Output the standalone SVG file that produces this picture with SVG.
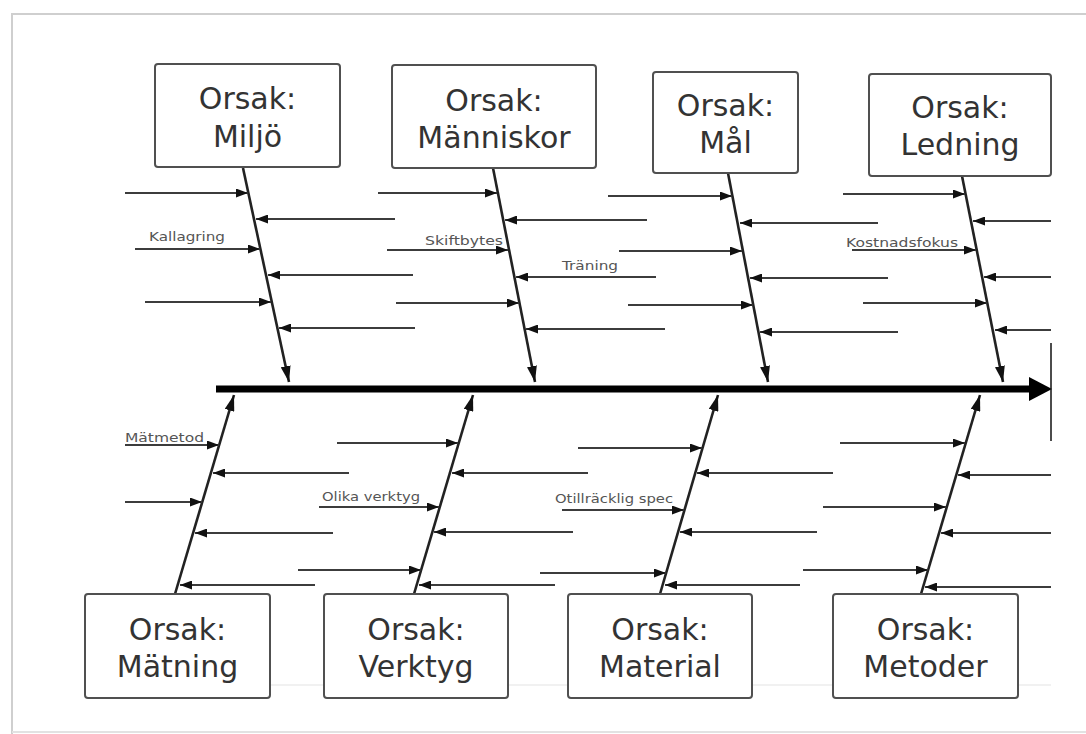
<svg xmlns="http://www.w3.org/2000/svg" width="1086" height="734" viewBox="0 0 1086 734">
<defs>
<style>
.frame{stroke:#cfcfcf;stroke-width:2;fill:none}
.faint{stroke:#ececec;stroke-width:1.5}
.box{fill:#fff;stroke:#505050;stroke-width:2}
.bt{font-family:"DejaVu Sans",sans-serif;font-size:30px;fill:#333;text-anchor:middle}
.lbl{font-family:"DejaVu Sans",sans-serif;font-size:12px;fill:#555}
.rib{stroke:#3c3c3c;stroke-width:2.2;fill:none;marker-end:url(#ra)}
.bone{stroke:#222;stroke-width:2.6;fill:none;marker-end:url(#ba)}
</style>
<marker id="ra" markerUnits="userSpaceOnUse" markerWidth="13" markerHeight="9" refX="12" refY="4.5" orient="auto">
<path d="M0,0 L12,4.5 L0,9 z" fill="#111"/>
</marker>
<marker id="ba" markerUnits="userSpaceOnUse" markerWidth="17" markerHeight="10" refX="16" refY="5" orient="auto">
<path d="M0,0 L16,5 L0,10 z" fill="#111"/>
</marker>
</defs>
<rect width="1086" height="734" fill="#fff"/>
<path class="frame" d="M12,734 L12,14 L1086,14"/>
<line x1="12" y1="732" x2="1086" y2="732" stroke="#e2e2e2" stroke-width="2"/>
<line class="faint" x1="85" y1="685" x2="1051" y2="685"/>

<g id="connectors">
<line x1="216" y1="389" x2="1032" y2="389" stroke="#000" stroke-width="7"/>
<polygon points="1029,377 1052,389 1029,401" fill="#000"/>
<line x1="1051" y1="343" x2="1051" y2="441" stroke="#111" stroke-width="1.5"/>

<line class="bone" x1="243" y1="168" x2="289" y2="382"/>
<line class="bone" x1="493" y1="168" x2="535" y2="382"/>
<line class="bone" x1="728" y1="173" x2="768" y2="382"/>
<line class="bone" x1="962" y1="176" x2="1003" y2="382"/>
<line class="bone" x1="175" y1="594" x2="234" y2="395"/>
<line class="bone" x1="414" y1="594" x2="473" y2="395"/>
<line class="bone" x1="660" y1="594" x2="718" y2="395"/>
<line class="bone" x1="921" y1="594" x2="980" y2="395"/>

<line class="rib" x1="125" y1="193" x2="248" y2="193"/>
<line class="rib" x1="395" y1="219" x2="256" y2="219"/>
<line class="rib" x1="135" y1="249" x2="260" y2="249"/>
<line class="rib" x1="413" y1="275" x2="268" y2="275"/>
<line class="rib" x1="145" y1="302" x2="271" y2="302"/>
<line class="rib" x1="415" y1="328" x2="279" y2="328"/>

<line class="rib" x1="378" y1="193" x2="497" y2="193"/>
<line class="rib" x1="647" y1="220" x2="505" y2="220"/>
<line class="rib" x1="387" y1="250" x2="508" y2="250"/>
<line class="rib" x1="656" y1="277" x2="516" y2="277"/>
<line class="rib" x1="396" y1="303" x2="519" y2="303"/>
<line class="rib" x1="665" y1="329" x2="526" y2="329"/>

<line class="rib" x1="608" y1="196" x2="732" y2="196"/>
<line class="rib" x1="878" y1="223" x2="740" y2="223"/>
<line class="rib" x1="619" y1="251" x2="742" y2="251"/>
<line class="rib" x1="888" y1="278" x2="750" y2="278"/>
<line class="rib" x1="628" y1="305" x2="753" y2="305"/>
<line class="rib" x1="898" y1="332" x2="760" y2="332"/>

<line class="rib" x1="843" y1="194" x2="965" y2="194"/>
<line class="rib" x1="1051" y1="221" x2="973" y2="221"/>
<line class="rib" x1="852" y1="250" x2="976" y2="250"/>
<line class="rib" x1="1051" y1="277" x2="984" y2="277"/>
<line class="rib" x1="863" y1="303" x2="987" y2="303"/>
<line class="rib" x1="1051" y1="330" x2="995" y2="330"/>

<line class="rib" x1="125" y1="445" x2="219" y2="445"/>
<line class="rib" x1="349" y1="473" x2="213" y2="473"/>
<line class="rib" x1="125" y1="502" x2="202" y2="502"/>
<line class="rib" x1="333" y1="533" x2="195" y2="533"/>
<line class="rib" x1="315" y1="585" x2="180" y2="585"/>

<line class="rib" x1="337" y1="443" x2="458" y2="443"/>
<line class="rib" x1="588" y1="473" x2="452" y2="473"/>
<line class="rib" x1="319" y1="507" x2="439" y2="507"/>
<line class="rib" x1="573" y1="532" x2="434" y2="532"/>
<line class="rib" x1="298" y1="570" x2="421" y2="570"/>
<line class="rib" x1="555" y1="585" x2="419" y2="585"/>

<line class="rib" x1="578" y1="448" x2="702" y2="448"/>
<line class="rib" x1="833" y1="473" x2="697" y2="473"/>
<line class="rib" x1="562" y1="510" x2="684" y2="510"/>
<line class="rib" x1="817" y1="532" x2="680" y2="532"/>
<line class="rib" x1="540" y1="573" x2="666" y2="573"/>
<line class="rib" x1="800" y1="585" x2="665" y2="585"/>

<line class="rib" x1="840" y1="443" x2="965" y2="443"/>
<line class="rib" x1="1051" y1="475" x2="958" y2="475"/>
<line class="rib" x1="823" y1="507" x2="946" y2="507"/>
<line class="rib" x1="1051" y1="533" x2="941" y2="533"/>
<line class="rib" x1="803" y1="570" x2="928" y2="570"/>
<line class="rib" x1="1051" y1="587" x2="925" y2="587"/>

<text class="lbl" x="149" y="241" textLength="76" lengthAdjust="spacingAndGlyphs">Kallagring</text>
<text class="lbl" x="425" y="245" textLength="78" lengthAdjust="spacingAndGlyphs">Skiftbytes</text>
<text class="lbl" x="562" y="270" textLength="56" lengthAdjust="spacingAndGlyphs">Träning</text>
<text class="lbl" x="846" y="247" textLength="112" lengthAdjust="spacingAndGlyphs">Kostnadsfokus</text>
<text class="lbl" x="125" y="442" textLength="79" lengthAdjust="spacingAndGlyphs">Mätmetod</text>
<text class="lbl" x="322" y="501" textLength="98" lengthAdjust="spacingAndGlyphs">Olika verktyg</text>
<text class="lbl" x="555" y="503" textLength="118" lengthAdjust="spacingAndGlyphs">Otillräcklig spec</text>
</g>

<g id="node-miljo">
<rect class="box" x="155" y="64" width="185" height="103" rx="3"/>
<text class="bt" x="247.5" y="109">Orsak:</text>
<text class="bt" x="247.5" y="147">Miljö</text>
</g>
<g id="node-manniskor">
<rect class="box" x="392" y="65" width="204" height="103" rx="3"/>
<text class="bt" x="494" y="111">Orsak:</text>
<text class="bt" x="494" y="148">Människor</text>
</g>
<g id="node-mal">
<rect class="box" x="653" y="72" width="145" height="101" rx="3"/>
<text class="bt" x="725.5" y="116">Orsak:</text>
<text class="bt" x="725.5" y="153">Mål</text>
</g>
<g id="node-ledning">
<rect class="box" x="869" y="74" width="182" height="102" rx="3"/>
<text class="bt" x="960" y="118">Orsak:</text>
<text class="bt" x="960" y="155">Ledning</text>
</g>
<g id="node-matning">
<rect class="box" x="85" y="594" width="185" height="104" rx="3"/>
<text class="bt" x="177.5" y="640">Orsak:</text>
<text class="bt" x="177.5" y="677">Mätning</text>
</g>
<g id="node-verktyg">
<rect class="box" x="324" y="594" width="184" height="104" rx="3"/>
<text class="bt" x="416" y="640">Orsak:</text>
<text class="bt" x="416" y="677">Verktyg</text>
</g>
<g id="node-material">
<rect class="box" x="568" y="594" width="184" height="104" rx="3"/>
<text class="bt" x="660" y="640">Orsak:</text>
<text class="bt" x="660" y="677">Material</text>
</g>
<g id="node-metoder">
<rect class="box" x="833" y="594" width="185" height="104" rx="3"/>
<text class="bt" x="925.5" y="640">Orsak:</text>
<text class="bt" x="925.5" y="677">Metoder</text>
</g>
</svg>
